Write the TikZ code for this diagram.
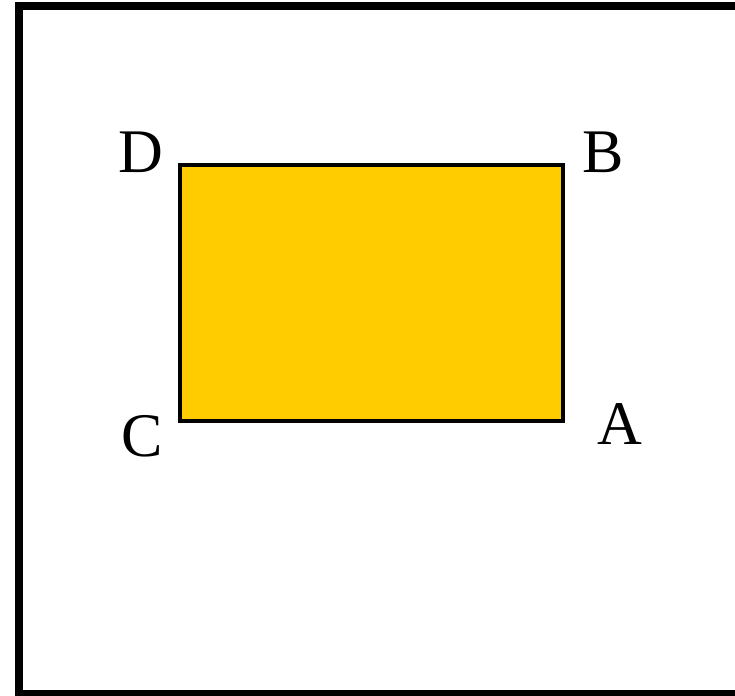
\documentclass[tikz,border=0pt]{standalone}
\usepackage{fontspec}
\setmainfont{Liberation Serif}
\definecolor{gold}{HTML}{FFCC00}
\begin{document}
\begin{tikzpicture}[x=1pt,y=1pt,
  lbl/.style={anchor=base,inner sep=0pt,font=\fontsize{62}{70}\selectfont}]
\useasboundingbox (0,0) rectangle (735,695);
\clip (0,0) rectangle (735,695);
\draw[line width=8pt] (19,1) rectangle (745,689);
\node[draw=black,line width=4pt,fill=gold,minimum width=383pt,minimum height=255.5pt,inner sep=0pt,outer sep=0pt,anchor=south west] (box) at (179.5,274) {};
\node[lbl] (D) at (141,522) {D};
\node[lbl] (B) at (603.5,522) {B};
\node[lbl] (C) at (142,238) {C};
\node[lbl] (A) at (619.5,250) {A};
\end{tikzpicture}
\end{document}
